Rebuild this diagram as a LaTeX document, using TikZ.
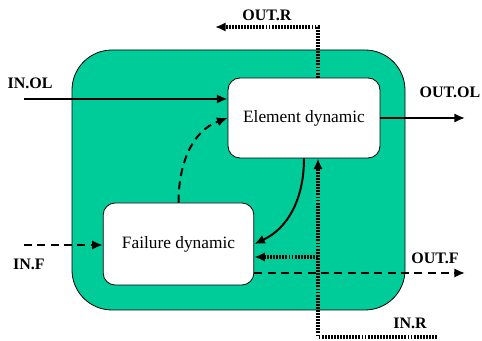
\documentclass[tikz,border=0pt]{standalone}
\usepackage{fontspec}
\setmainfont{Liberation Serif}
\newfontfamily\timesfont{Liberation Serif}
\usetikzlibrary{arrows.meta}
\definecolor{blockgreen}{RGB}{0,204,153}
\tikzset{
  dynbox/.style={draw,fill=white,rounded corners=9pt,line width=0.6pt,
    minimum width=114pt,minimum height=60pt,font=\timesfont\fontsize{13}{15}\selectfont},
  lbl/.style={font=\timesfont\bfseries\fontsize{12}{14}\selectfont},
  flow/.style={line width=1.5pt,-{Latex[length=8pt,width=7pt]}},
  fail/.style={flow,dash pattern=on 6pt off 4pt},
  repair/.style={flow,line width=2.6pt,dash pattern=on 1.4pt off 0.9pt}
}
\begin{document}
\begin{tikzpicture}[x=0.75pt,y=-0.75pt]
\useasboundingbox (0,0) rectangle (482,341);
\draw[fill=blockgreen,line width=0.6pt,rounded corners=30pt] (72,50) rectangle (405,310);
\node[dynbox] (elem) at (304,118) {Element dynamic};
\node[dynbox,minimum width=113pt,minimum height=61.5pt] (fdyn) at (178.5,244) {Failure dynamic};
\coordinate (inol) at (24,99);
\coordinate (outol) at (465,118);
\coordinate (rtop) at (318,27);
\coordinate (outr) at (215,27);
\coordinate (inr) at (437,337);
\coordinate (rbot) at (318,337);
\coordinate (rbr) at (318,257);
\coordinate (outf) at (465,273);
\coordinate (inf) at (24,245);
\draw[flow] (inol) -- (inol -| elem.west);
\draw[flow] (elem.east) -- (outol);
\draw[repair] (rtop |- elem.north) -- (rtop) -- (outr);
\draw[repair] (inr) -- (rbot) -- (rbot |- elem.south);
\draw[repair] (rbr) -- (rbr -| fdyn.east);
\draw[fail] (fdyn.east |- outf) -- (outf);
\draw[fail] (inf) -- (inf -| fdyn.west);
\draw[flow] (elem.south) to[out=-90,in=25] (fdyn.east);
\draw[fail] (fdyn.north) to[out=90,in=200] (elem.west);
\node[lbl] (linol) at (30,83) {IN.OL};
\node[lbl] (loutol) at (450,92) {OUT.OL};
\node[lbl] (loutr) at (267,15) {OUT.R};
\node[lbl] (linf) at (29,264) {IN.F};
\node[lbl] (loutf) at (435,258) {OUT.F};
\node[lbl] (linr) at (410,323) {IN.R};
\end{tikzpicture}
\end{document}
